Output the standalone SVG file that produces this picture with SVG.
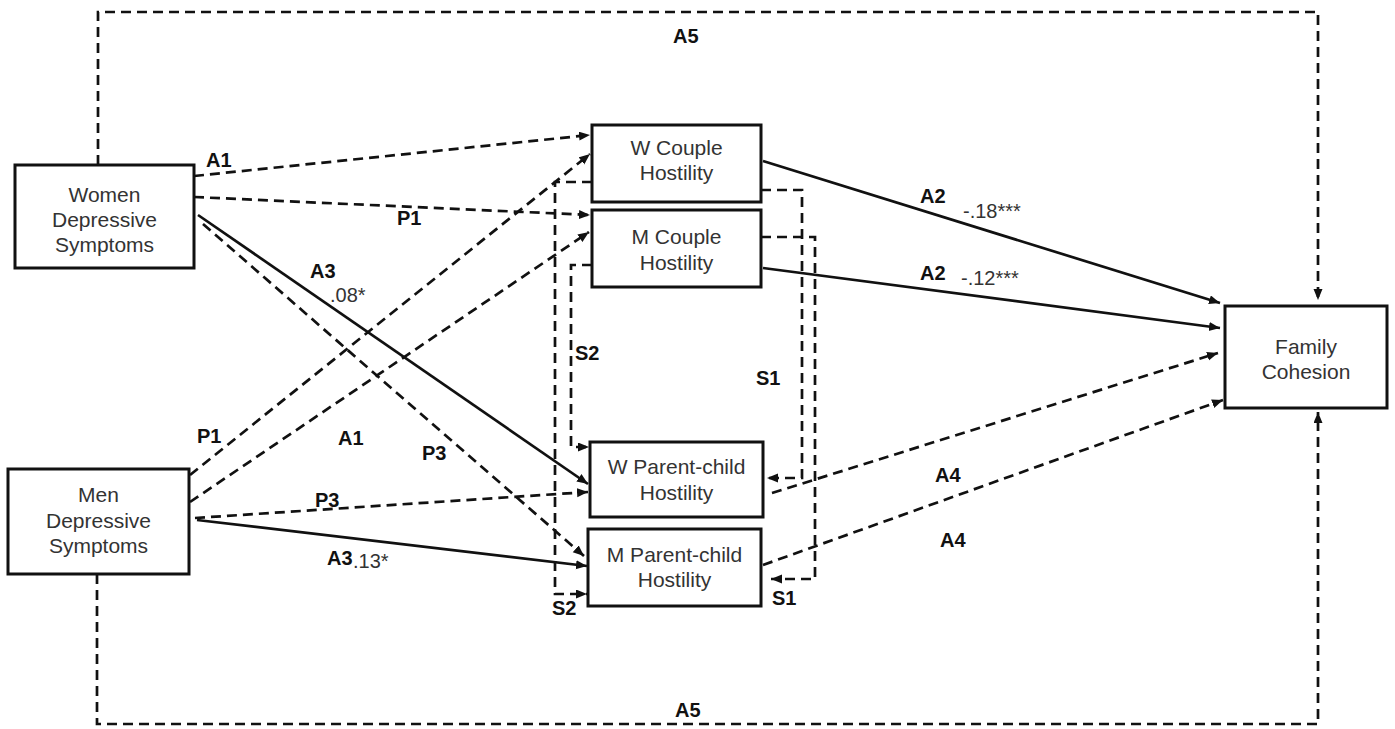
<svg xmlns="http://www.w3.org/2000/svg" width="1395" height="729" viewBox="0 0 1395 729">
<style>
.box{fill:#fff;stroke:#111;stroke-width:3}
.nt{font-family:"Liberation Sans",Arial,sans-serif;font-size:21px;fill:#333;text-anchor:middle}
.lb{font-family:"Liberation Sans",Arial,sans-serif;font-size:20px;font-weight:bold;fill:#111}
.cf{font-family:"Liberation Sans",Arial,sans-serif;font-size:20px;fill:#333}
.s{fill:none;stroke:#111;stroke-width:2.7;marker-end:url(#ah)}
.d{fill:none;stroke:#111;stroke-width:2.7;stroke-dasharray:10 6;marker-end:url(#ah)}
</style>
<defs>
<marker id="ah" markerUnits="userSpaceOnUse" markerWidth="12" markerHeight="10" refX="11" refY="4.5" orient="auto">
<path d="M0,0 L11,4.5 L0,9 z" fill="#111"/>
</marker>
</defs>
<rect width="1395" height="729" fill="#fff"/>
<g id="connectors">
<path class="d" d="M98,165 V12 H1318 V300"/>
<path class="d" d="M97,574 V724 H1318 V412"/>
<path class="d" d="M194,176 L590,135"/>
<path class="d" d="M194,197 L590,215"/>
<path class="s" d="M198,215 L588,484"/>
<path class="d" d="M203,224 L584,556"/>
<path class="d" d="M190,475 L590,154"/>
<path class="d" d="M190,502 L589,232"/>
<path class="d" d="M195,518 L588,492"/>
<path class="s" d="M197,520 L587,566"/>
<path class="s" d="M763,161 L1220,303"/>
<path class="s" d="M763,268 L1220,328"/>
<path class="d" d="M772,493 L1218,353"/>
<path class="d" d="M763,565 L1223,400"/>
<path class="d" d="M761,190 H802 V478 H767"/>
<path class="d" d="M761,237 H815 V579 H771"/>
<path class="d" d="M592,182 H555 V594 H587"/>
<path class="d" d="M592,265 H571 V447 H589"/>
</g>
<g id="labels">
<text class="lb" x="673" y="43">A5</text>
<text class="lb" x="675" y="717">A5</text>
<text class="lb" x="206" y="167">A1</text>
<text class="lb" x="397" y="225">P1</text>
<text class="lb" x="310" y="278">A3</text>
<text class="cf" x="330" y="302">.08*</text>
<text class="lb" x="197" y="443">P1</text>
<text class="lb" x="338" y="445">A1</text>
<text class="lb" x="422" y="460">P3</text>
<text class="lb" x="315" y="507">P3</text>
<text class="lb" x="327" y="565">A3</text>
<text class="cf" x="353" y="568">.13*</text>
<text class="lb" x="920" y="203">A2</text>
<text class="cf" x="963" y="218">-.18***</text>
<text class="lb" x="920" y="280">A2</text>
<text class="cf" x="961" y="285">-.12***</text>
<text class="lb" x="935" y="482">A4</text>
<text class="lb" x="940" y="547">A4</text>
<text class="lb" x="575" y="360">S2</text>
<text class="lb" x="756" y="385">S1</text>
<text class="lb" x="552" y="615">S2</text>
<text class="lb" x="772" y="605">S1</text>
</g>
<g id="women">
<rect class="box" x="15" y="165" width="179" height="103"/>
<text class="nt" x="104.5" y="202">Women</text>
<text class="nt" x="104.5" y="227">Depressive</text>
<text class="nt" x="104.5" y="252">Symptoms</text>
</g>
<g id="men">
<rect class="box" x="8" y="469" width="181" height="105"/>
<text class="nt" x="98.5" y="502">Men</text>
<text class="nt" x="98.5" y="528">Depressive</text>
<text class="nt" x="98.5" y="553">Symptoms</text>
</g>
<g id="w-couple">
<rect class="box" x="592" y="125" width="169" height="77"/>
<text class="nt" x="676.5" y="155">W Couple</text>
<text class="nt" x="676.5" y="180">Hostility</text>
</g>
<g id="m-couple">
<rect class="box" x="592" y="210" width="169" height="77"/>
<text class="nt" x="676.5" y="244">M Couple</text>
<text class="nt" x="676.5" y="270">Hostility</text>
</g>
<g id="w-parent">
<rect class="box" x="590" y="442" width="173" height="75"/>
<text class="nt" x="676.5" y="474">W Parent-child</text>
<text class="nt" x="676.5" y="500">Hostility</text>
</g>
<g id="m-parent">
<rect class="box" x="588" y="529" width="173" height="77"/>
<text class="nt" x="674.5" y="562">M Parent-child</text>
<text class="nt" x="674.5" y="587">Hostility</text>
</g>
<g id="family">
<rect class="box" x="1225" y="306" width="162" height="102"/>
<text class="nt" x="1306" y="354">Family</text>
<text class="nt" x="1306" y="379">Cohesion</text>
</g>
</svg>
